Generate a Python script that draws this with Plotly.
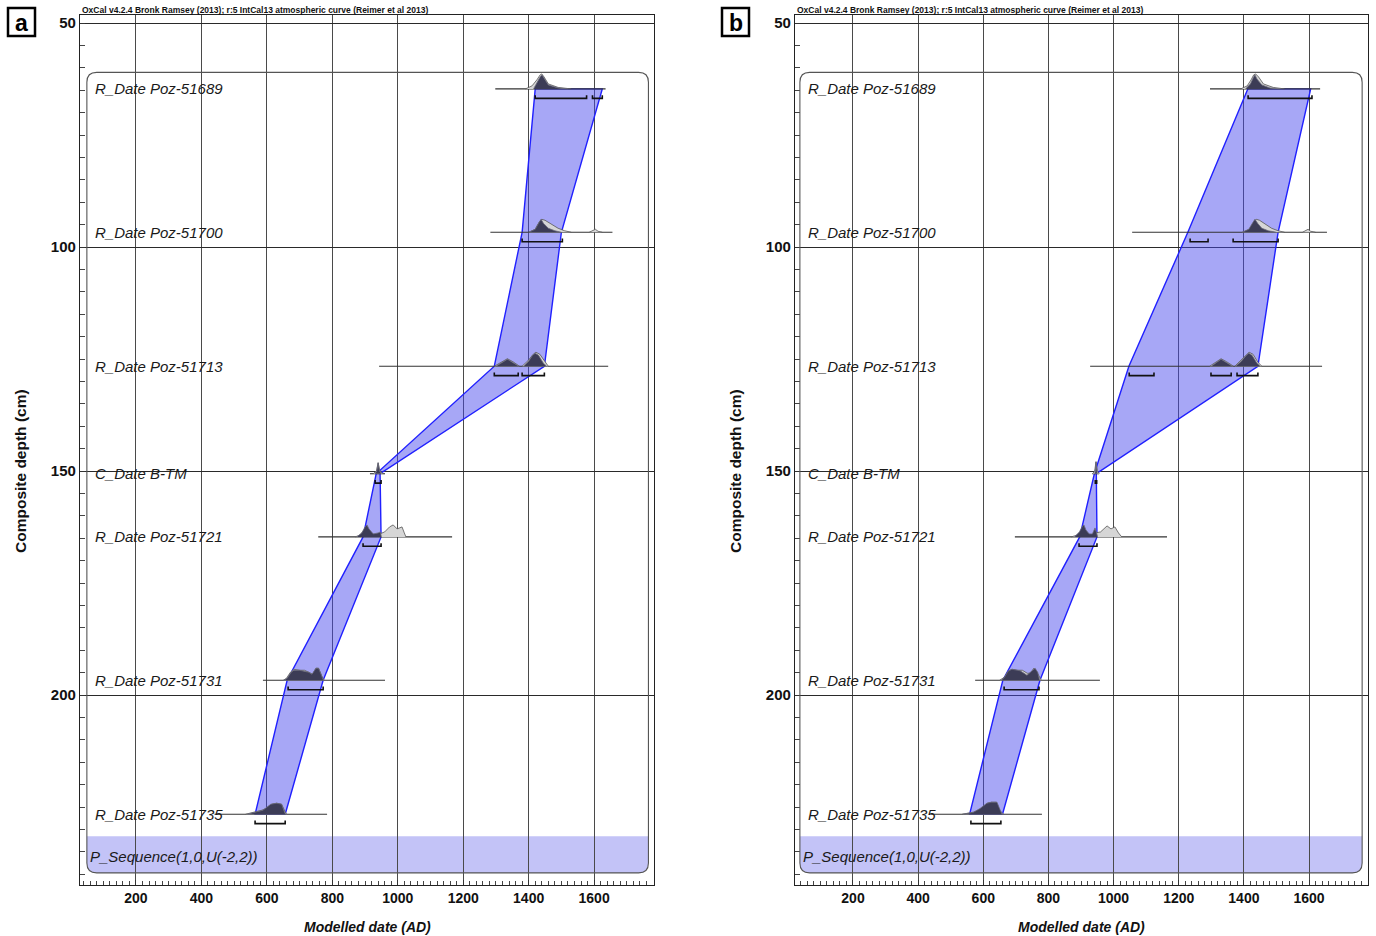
import plotly.graph_objects as go

W, H = 1376, 936
FONT = "Liberation Sans, Arial, sans-serif"

header = "OxCal v4.2.4 Bronk Ramsey (2013); r:5 IntCal13 atmospheric curve (Reimer et al 2013)"
names = ["R_Date Poz-51689", "R_Date Poz-51700", "R_Date Poz-51713", "C_Date B-TM",
         "R_Date Poz-51721", "R_Date Poz-51731", "R_Date Poz-51735"]
seq_label = "P_Sequence(1,0,U(-2,2))"
depths = [64.7, 96.7, 126.6, 150.6, 164.7, 196.7, 226.6]
x_ticks = [200, 400, 600, 800, 1000, 1200, 1400, 1600]
y_ticks = [50, 100, 150, 200]

# modelled age envelope (95% range at each depth)
a_left = [1420, 1380, 1295, 934, 894, 662, 564]
a_right = [1625, 1500, 1448, 946, 949, 772, 656]
b_left = [1412, 1228, 1047, 941, 896, 660, 558]
b_right = [1605, 1505, 1443, 947, 949, 774, 659]

# plotted extent of each likelihood
a_span = [[1298, 1635], [1283, 1656], [943, 1643], [915, 961], [757, 1166], [588, 961], [440, 784]]
b_span = [[1296, 1634], [1057, 1655], [928, 1640], [935, 955], [697, 1164], [575, 958], [440, 780]]

# 95.4% highest posterior density ranges
a_hpd = [[[1420, 1577], [1595, 1625]], [[1380, 1503]], [[1295, 1368], [1380, 1448]],
         [[931, 949]], [[894, 949]], [[665, 772]], [[564, 656]]]
b_hpd = [[[1413, 1609]], [[1235, 1290], [1367, 1505]], [[1048, 1124], [1299, 1361], [1379, 1443]],
         [[944, 948]], [[894, 949]], [[664, 771]], [[562, 654]]]

# prior (unmodelled) probability distributions: segments of (dates, relative density)
a_prior = [
    [([1390, 1410, 1425, 1435, 1440, 1447, 1460, 1490, 1530], [0, 3, 9, 14, 15, 12, 5, 1.5, 0])],
    [([1400, 1420, 1432, 1440, 1450, 1470, 1490, 1510, 1530], [0, 3, 10, 13, 12, 8, 4, 1.5, 0]),
     ([1585, 1597, 1604, 1612, 1625], [0, 2, 3, 1, 0])],
    [([1295, 1318, 1335, 1352, 1372], [0, 4.5, 7.5, 4.5, 0]),
     ([1380, 1398, 1414, 1422, 1434, 1450, 1460], [0, 5.5, 12, 14, 12, 4, 0])],
    [([925, 935, 940, 945, 955], [0, 3, 11, 3, 0])],
    [([870, 885, 895, 906, 918, 930, 945, 960, 975, 986, 998, 1013, 1020, 1025],
      [0, 2, 6, 10, 4, 2, 3, 5, 10, 12, 8, 10, 4, 0])],
    [([650, 660, 672, 682, 700, 715, 728, 740, 750, 758, 768, 775], [0, 2, 8, 11, 10, 10, 8, 6, 12, 12, 4, 0])],
    [([535, 550, 565, 585, 600, 615, 630, 645, 655, 660], [0, 1, 2, 4, 6, 10, 11, 10, 3, 0])],
]
b_prior = [
    [([1390, 1410, 1422, 1430, 1436, 1445, 1460, 1490, 1525], [0, 3, 9, 14, 15, 12, 5, 1.5, 0])],
    [([1395, 1418, 1430, 1438, 1448, 1465, 1485, 1505, 1525], [0, 3, 10, 13, 12, 8, 4, 1.5, 0]),
     ([1580, 1592, 1597, 1605, 1620], [0, 2, 3, 1, 0])],
    [([1295, 1315, 1330, 1347, 1368], [0, 4.5, 7.5, 4.5, 0]),
     ([1372, 1390, 1408, 1416, 1428, 1443, 1455], [0, 5.5, 12, 14, 12, 4, 0])],
    [([936, 942, 946, 950, 956], [0, 3, 12, 3, 0])],
    [([870, 890, 905, 915, 930, 945, 960, 975, 980, 992, 1004, 1015, 1025],
      [0, 2, 6, 4, 2, 4, 5, 10, 11, 8, 10, 4, 0])],
    [([650, 665, 676, 688, 705, 720, 735, 745, 755, 765, 778], [0, 3, 9, 11, 10, 10, 7, 7, 12, 8, 0])],
    [([535, 555, 570, 585, 600, 612, 625, 640, 650, 662], [0, 1, 2, 4, 6, 11, 12, 12, 4, 0])],
]

# posterior (modelled) probability distributions
a_post = [
    [([1415, 1425, 1435, 1441, 1448, 1460, 1490, 1520], [0, 6, 12, 14, 10, 4, 1, 0])],
    [([1400, 1420, 1432, 1438, 1445, 1460, 1480, 1500], [0, 3, 10, 13, 9, 4, 1.5, 0])],
    [([1300, 1320, 1335, 1350, 1370], [0, 4, 7, 4, 0]),
     ([1385, 1400, 1412, 1420, 1430, 1445, 1455], [0, 5, 11, 13, 11, 3, 0])],
    [([930, 936, 940, 944, 950], [0, 3, 11, 3, 0])],
    [([875, 890, 900, 906, 912, 925, 940, 947, 950], [0, 4, 10, 12, 8, 3, 4, 5, 0])],
    [([652, 662, 674, 682, 700, 715, 728, 738, 750, 758, 767, 773], [0, 2, 8, 10, 10, 9, 8, 6, 12, 12, 4, 0])],
    [([540, 552, 565, 588, 600, 612, 630, 645, 653, 657], [0, 1, 2, 4, 7, 10, 11, 10, 3, 0])],
]
b_post = [
    [([1405, 1420, 1430, 1434, 1440, 1455, 1480, 1510], [0, 5, 12, 14, 10, 4, 1, 0])],
    [([1395, 1415, 1428, 1434, 1442, 1455, 1475, 1500], [0, 3, 10, 13, 9, 4, 1.5, 0])],
    [([1300, 1318, 1330, 1345, 1365], [0, 4, 7, 4, 0]),
     ([1375, 1392, 1408, 1415, 1425, 1440, 1450], [0, 5, 11, 13, 11, 3, 0])],
    [([942, 944, 946, 948, 950], [0, 3, 12, 3, 0])],
    [([880, 895, 905, 909, 915, 925, 935, 943, 948, 951], [0, 5, 11, 12, 7, 3, 3, 9, 4, 0])],
    [([655, 665, 676, 688, 705, 713, 725, 734, 748, 759, 767, 773], [0, 3, 9, 11, 10, 9.5, 7, 5, 9, 12, 8, 0])],
    [([538, 555, 570, 590, 600, 611, 625, 642, 652, 658], [0, 1, 2, 5.7, 8, 11, 12, 12, 4, 0])],
]

DENS = 1 / 4.48      # relative density unit -> cm of depth
HPD_OFF = 2.1        # cm below the date line
HPD_TICK = 0.7

fig = go.Figure()


def add_panel(xa, ya, left, right, spans, hpds, priors, posts):
    px = left + right[::-1] + [left[0]]
    py = depths + depths[::-1] + [depths[0]]
    fig.add_trace(go.Scatter(x=px, y=py, xaxis=xa, yaxis=ya, mode="lines", fill="toself",
                             fillcolor="rgba(72,72,236,0.48)", line=dict(color="#2020ff", width=1.4),
                             hoverinfo="skip", showlegend=False))
    sx, sy = [], []
    for d, s in zip(depths, spans):
        sx += [s[0], s[1], None]
        sy += [d, d, None]
    fig.add_trace(go.Scatter(x=sx, y=sy, xaxis=xa, yaxis=ya, mode="lines",
                             line=dict(color="#333333", width=1.1), hoverinfo="skip", showlegend=False))
    for dists, fc, lc in ((priors, "#d6d6d6", "#555555"), (posts, "#3c3c56", "#6a6a7a")):
        dx, dy = [], []
        for d, segs in zip(depths, dists):
            for xs, hs in segs:
                dx += list(xs) + [None]
                dy += [d - h * DENS for h in hs] + [None]
        fig.add_trace(go.Scatter(x=dx, y=dy, xaxis=xa, yaxis=ya, mode="lines", fill="toself",
                                 fillcolor=fc, line=dict(color=lc, width=0.8),
                                 hoverinfo="skip", showlegend=False))
    bx, by = [], []
    for d, rngs in zip(depths, hpds):
        yb = d + HPD_OFF
        for r0, r1 in rngs:
            bx += [r0, r0, r1, r1, None]
            by += [yb - HPD_TICK, yb, yb, yb - HPD_TICK, None]
    fig.add_trace(go.Scatter(x=bx, y=by, xaxis=xa, yaxis=ya, mode="lines",
                             line=dict(color="#111111", width=1.6), hoverinfo="skip", showlegend=False))


add_panel("x", "y", a_left, a_right, a_span, a_hpd, a_prior, a_post)
add_panel("x2", "y2", b_left, b_right, b_span, b_hpd, b_prior, b_post)

ydom = [1 - 885 / H, 1 - 15 / H]
yrange = [242.4, 48.2]


def xax(dom, rng):
    return dict(domain=dom, range=rng, tickmode="array", tickvals=x_ticks,
                showgrid=True, gridcolor="#4a4a4a", gridwidth=1, zeroline=False,
                showline=True, linecolor="#222222", linewidth=1.3, mirror=True,
                ticks="inside", ticklen=5, tickcolor="#333333",
                minor=dict(tickmode="linear", tick0=0, dtick=20, ticks="inside", ticklen=4,
                           tickcolor="#444444", showgrid=False),
                tickfont=dict(family=FONT, size=14, color="#111111", weight="bold"),
                fixedrange=True)


def yax(dom, anchor):
    return dict(domain=dom, range=yrange, anchor=anchor, tickmode="array", tickvals=y_ticks,
                showgrid=True, gridcolor="#2a2a2a", gridwidth=1, zeroline=False,
                showline=True, linecolor="#222222", linewidth=1.3, mirror=True,
                ticks="inside", ticklen=5, tickcolor="#333333",
                minor=dict(tickmode="linear", tick0=0, dtick=5, ticks="inside", ticklen=5,
                           tickcolor="#444444", showgrid=False),
                tickfont=dict(family=FONT, size=15, color="#111111", weight="bold"),
                fixedrange=True)


xa_dom = [80 / W, 654 / W]
xb_dom = [795 / W, 1368 / W]
fig.update_layout(
    width=W, height=H, margin=dict(l=0, r=0, t=0, b=0),
    paper_bgcolor="white", plot_bgcolor="white", showlegend=False,
    xaxis=dict(xax(xa_dom, [29, 1783]), anchor="y"),
    yaxis=yax(ydom, "x"),
    xaxis2=dict(xax(xb_dom, [22, 1781]), anchor="y2"),
    yaxis2=yax(ydom, "x2"),
)

shapes = []
annots = []


def box_path(x0, x1, y0, y1, rx, ry):
    return (f"M {x0+rx},{y0} L {x1-rx},{y0} Q {x1},{y0} {x1},{y0+ry} L {x1},{y1-ry} "
            f"Q {x1},{y1} {x1-rx},{y1} L {x0+rx},{y1} Q {x0},{y1} {x0},{y1-ry} "
            f"L {x0},{y0+ry} Q {x0},{y0} {x0+rx},{y0} Z")


def band_path(x0, x1, yt, y1, rx, ry):
    return (f"M {x0},{yt} L {x1},{yt} L {x1},{y1-ry} Q {x1},{y1} {x1-rx},{y1} "
            f"L {x0+rx},{y1} Q {x0},{y1} {x0},{y1-ry} Z")


for xr, yr, bx0, bx1, lab_x, seq_x, dom, letter, lx0, lx1 in (
        ("x", "y", 50, 1766, 69, 53, xa_dom, "a", 8, 35),
        ("x2", "y2", 37, 1763, 56, 40, xb_dom, "b", 722, 749)):
    by0, by1 = 61.0, 239.7
    shapes.append(dict(type="path", xref=xr, yref=yr, layer="below",
                       path=band_path(bx0, bx1, 231.5, by1, 30, 2.2),
                       fillcolor="#c3c3f7", line=dict(width=0)))
    shapes.append(dict(type="path", xref=xr, yref=yr, layer="above",
                       path=box_path(bx0, bx1, by0, by1, 30, 2.2),
                       line=dict(color="#555555", width=1.1)))
    for nm, d in zip(names, depths):
        annots.append(dict(x=lab_x, y=d, xref=xr, yref=yr, text=nm, showarrow=False,
                           xanchor="left", yanchor="middle",
                           font=dict(family=FONT, size=15, color="#1a1a1a", style="italic")))
    annots.append(dict(x=seq_x, y=236.0, xref=xr, yref=yr, text=seq_label, showarrow=False,
                       xanchor="left", yanchor="middle",
                       font=dict(family=FONT, size=15, color="#1a1a1a", style="italic")))
    # header
    annots.append(dict(x=dom[0], y=1 - 10.5 / H, xref="paper", yref="paper", text=header,
                       showarrow=False, xanchor="left", yanchor="middle",
                       font=dict(family=FONT, size=8.5, color="#111111", weight="bold")))
    # axis titles
    annots.append(dict(x=(dom[0] + dom[1]) / 2, y=1 - 927 / H, xref="paper", yref="paper",
                       text="Modelled date (AD)", showarrow=False, xanchor="center", yanchor="middle",
                       font=dict(family=FONT, size=14, color="#111111", weight="bold", style="italic")))
    annots.append(dict(x=dom[0] - 60 / W, y=1 - 471 / H, xref="paper", yref="paper",
                       text="Composite depth (cm)", showarrow=False, textangle=-90,
                       xanchor="center", yanchor="middle",
                       font=dict(family=FONT, size=15.5, color="#111111", weight="bold")))
    # panel letter
    shapes.append(dict(type="rect", xref="paper", yref="paper", x0=lx0 / W, x1=lx1 / W,
                       y0=1 - 36 / H, y1=1 - 8 / H, line=dict(color="black", width=2.5),
                       fillcolor="white"))
    annots.append(dict(x=(lx0 + lx1) / 2 / W, y=1 - 22.5 / H, xref="paper", yref="paper",
                       text=letter, showarrow=False, xanchor="center", yanchor="middle",
                       font=dict(family=FONT, size=23, color="black", weight="bold")))

fig.update_layout(shapes=shapes, annotations=annots)
fig.write_html("out.html")
